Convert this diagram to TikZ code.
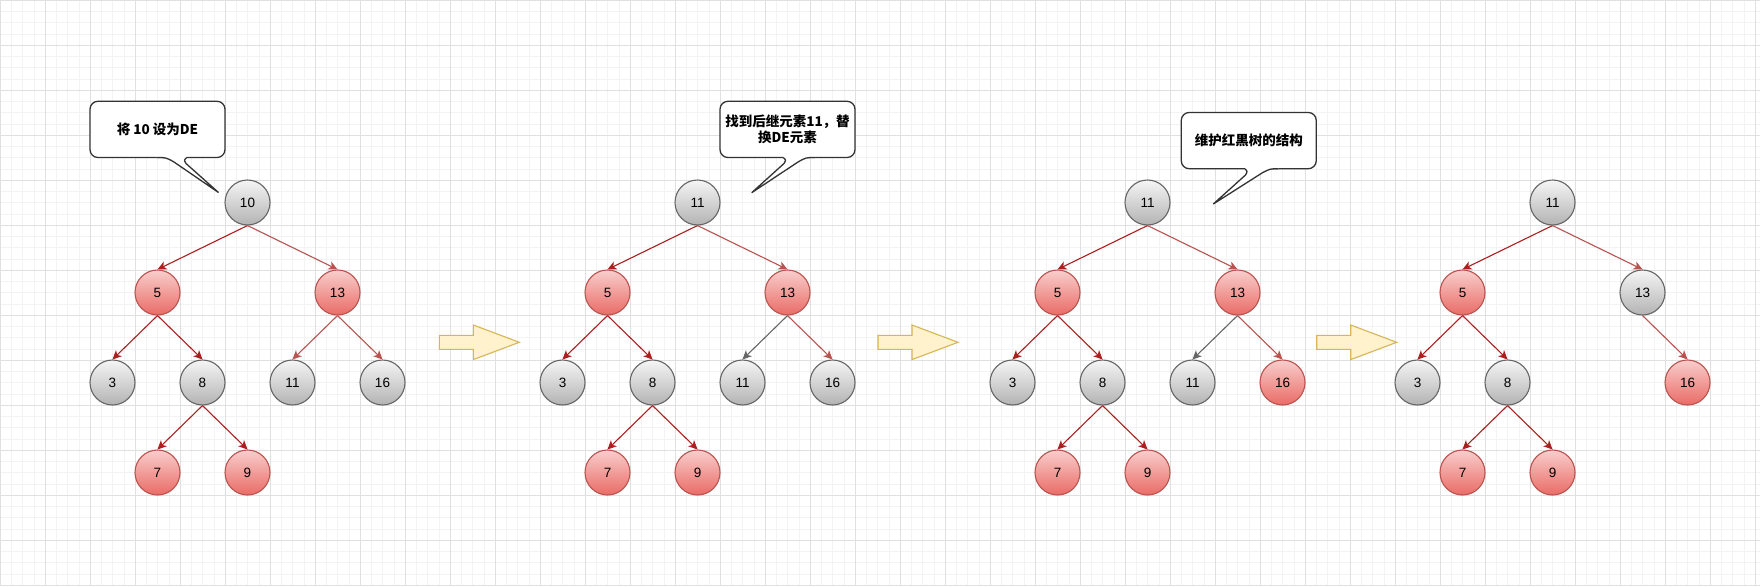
\documentclass[tikz,border=0pt]{standalone}
\usepackage{fontspec}
\setmainfont{Liberation Sans}
\newfontfamily\cjk{Noto Sans CJK SC}
\usetikzlibrary{arrows.meta,positioning}
\definecolor{redfill}{HTML}{F8CECC}
\definecolor{redgrad}{HTML}{EA6B66}
\definecolor{redline}{HTML}{B85450}
\definecolor{greyfill}{HTML}{F5F5F5}
\definecolor{greygrad}{HTML}{B3B3B3}
\definecolor{greyline}{HTML}{666666}
\definecolor{darkedge}{HTML}{AC1F1F}
\definecolor{arrowfill}{HTML}{FFF2CC}
\definecolor{arrowline}{HTML}{D6B656}
\definecolor{minorgrid}{HTML}{F3F3F3}
\definecolor{majorgrid}{HTML}{E0E0E0}
\tikzset{>={Stealth[length=9pt,width=8.5pt,inset=2.5pt]},
         every node/.style={font=\fontsize{13.5}{16.5}\selectfont},
         keynode/.style={circle, minimum size=45pt, inner sep=0pt, line width=1.1pt},
         rednode/.style={keynode, draw=redline, top color=redfill, bottom color=redgrad},
         blacknode/.style={keynode, draw=greyline, top color=greyfill, bottom color=greygrad},
         link/.style={->, line width=1.1pt},
         darklink/.style={link, darkedge},
         lightlink/.style={link, redline},
         greylink/.style={link, greyline},
         callout/.style={draw=black!80, fill=white, line width=1.3pt, rounded corners=8pt,
                         minimum width=135pt, minimum height=56.25pt, align=center,
                         font=\cjk\bfseries\fontsize{13.5}{16.6}\selectfont},
         tail/.style={draw=black!80, line width=1.3pt, line join=miter},
         blockarrow/.style={draw=arrowline, fill=arrowfill, line width=1.1pt}}

\begin{document}
\begin{tikzpicture}[x=1pt, y=-1pt, node distance=90pt and 90pt, on grid]
  \useasboundingbox (0,0) rectangle (1760,586);
  \fill[white] (0,0) rectangle (1760,586);
  \foreach \x in {0,11.25,...,1760} \draw[minorgrid] (\x,0) -- (\x,586);
  \foreach \y in {0,11.25,...,586} \draw[minorgrid] (0,\y) -- (1760,\y);
  \foreach \x in {0,45,...,1760} \draw[majorgrid] (\x,0) -- (\x,586);
  \foreach \y in {0,45,...,586} \draw[majorgrid] (0,\y) -- (1760,\y);

  \foreach \t/\dx/\rt/\tc/\sc in {a/0/10/rednode/blacknode, b/450/11/rednode/blacknode,
                                  c/900/11/rednode/rednode, d/1305/11/blacknode/rednode}{
    \node[blacknode] (\t-r) at (247.5+\dx,202.5) {\rt};
    \node[rednode, below left=of \t-r] (\t-5) {5};
    \node[\tc, below right=of \t-r] (\t-13) {13};
    \node[blacknode, below left=90pt and 45pt of \t-5] (\t-3) {3};
    \node[blacknode, below right=90pt and 45pt of \t-5] (\t-8) {8};
    \node[rednode, below left=90pt and 45pt of \t-8] (\t-7) {7};
    \node[rednode, below right=90pt and 45pt of \t-8] (\t-9) {9};
    \node[\sc, below right=90pt and 45pt of \t-13] (\t-16) {16};
    \draw[darklink] (\t-r.south) -- (\t-5.north);
    \draw[lightlink] (\t-r.south) -- (\t-13.north);
    \draw[darklink] (\t-5.south) -- (\t-3.north);
    \draw[darklink] (\t-5.south) -- (\t-8.north);
    \draw[darklink] (\t-8.south) -- (\t-7.north);
    \draw[darklink] (\t-8.south) -- (\t-9.north);
    \draw[lightlink] (\t-13.south) -- (\t-16.north);
  }
  \foreach \t/\lk in {a/lightlink, b/greylink, c/greylink}{
    \node[blacknode, below left=90pt and 45pt of \t-13] (\t-11) {11};
    \draw[\lk] (\t-13.south) -- (\t-11.north);
  }

  \foreach \x in {439.3,878,1316.7}
    \draw[blockarrow] (\x,335.3) -- ++(34,0) -- ++(0,-10.3) -- ++(46,17.3)
      -- ++(-46,17.3) -- ++(0,-10.3) -- ++(-34,0) -- cycle;

  \node[callout] (a-say) at (157.5,129.4) {将 10 设为DE};
  \node[callout] (b-say) at (787.5,129.4) {找到后继元素11，替\\换DE元素};
  \node[callout] (c-say) at (1248.75,140.6) {维护红黑树的结构};
  \fill[white] (156.7,156) -- (186.7,156) -- (186.7,157.5) .. controls (184,160) .. (186,163.5)
    -- (218.5,192.5) -- (174,162) .. controls (166,157.5) .. (156.7,157.5) -- cycle;
  \draw[tail] (186.7,157.5) .. controls (184,160) .. (186,163.5) -- (218.5,192.5)
    -- (174,162) .. controls (166,157.5) .. (156.7,157.5);
  \fill[white] (783.3,156) -- (815,156) -- (815,157.5) .. controls (806,157.5) .. (798,162)
    -- (751.7,192.7) -- (784,163.5) .. controls (786,160) .. (783.3,157.5) -- cycle;
  \draw[tail] (815,157.5) .. controls (806,157.5) .. (798,162) -- (751.7,192.7)
    -- (784,163.5) .. controls (786,160) .. (783.3,157.5);
  \fill[white] (1245,167.2) -- (1278.3,167.2) -- (1278.3,168.75) .. controls (1270,168.75) .. (1262,173)
    -- (1213.3,204) -- (1245.5,175) .. controls (1247.5,171.5) .. (1245,168.75) -- cycle;
  \draw[tail] (1278.3,168.75) .. controls (1270,168.75) .. (1262,173) -- (1213.3,204)
    -- (1245.5,175) .. controls (1247.5,171.5) .. (1245,168.75);
\end{tikzpicture}
\end{document}
